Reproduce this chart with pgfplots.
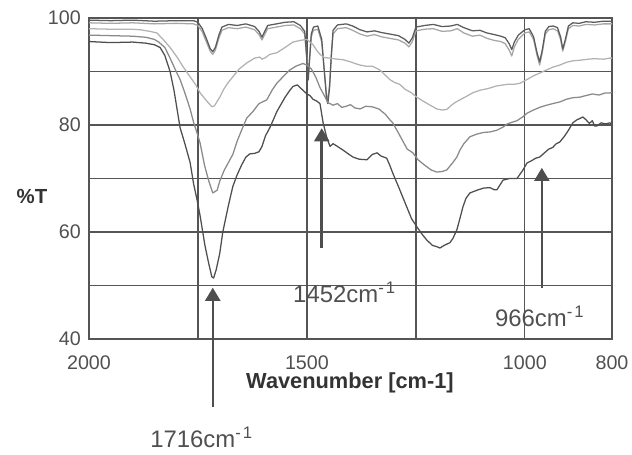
\documentclass[border=0pt]{standalone}
\usepackage{fontspec}
\setmainfont{Liberation Sans}
\usepackage{pgfplots}
\pgfplotsset{compat=1.18}
\usetikzlibrary{arrows.meta}
\definecolor{gridc}{HTML}{555555}
\definecolor{txt}{HTML}{505050}
\definecolor{cA}{HTML}{5C5C5C}
\definecolor{cB}{HTML}{A6A6A6}
\definecolor{cC}{HTML}{B2B2B2}
\definecolor{cD}{HTML}{8A8A8A}
\definecolor{cE}{HTML}{4E4E4E}
\newcommand{\cmi}{cm\textsuperscript{-\hspace{0.12em}1}}

\begin{document}
\begin{tikzpicture}
% 1 px of the reference = 0.025cm
\useasboundingbox (-2.225cm,-2.875cm) rectangle (13.575cm,8.475cm);
\begin{axis}[
    at={(0,0)}, anchor=south west,
    scale only axis,
    width=13.075cm, height=8.025cm,
    x dir=reverse,
    xmin=800, xmax=2000, ymin=40, ymax=100,
    xtick={2000,1750,1500,1250,1000,800},
    xticklabels={2000,,1500,,1000,800},
    ytick={40,50,60,70,80,90,100},
    yticklabels={40,,60,,80,,100},
    grid=major,
    grid style={draw=gridc, line width=0.9pt},
    axis line style={draw=gridc, line width=1pt},
    major tick length=0pt,
    xticklabel style={font=\fontsize{14}{14}\selectfont, text=txt, anchor=base, inner sep=0pt, yshift=-0.75cm},
    yticklabel style={font=\fontsize{14}{14}\selectfont, text=txt, anchor=east, inner sep=0pt, xshift=-0.2cm},
    xlabel={\textbf{Wavenumber [cm-1]}},
    ylabel={\textbf{\%T}},
    every axis x label/.style={at={(axis description cs:0.499,-0.137)}, anchor=center, font=\fontsize{15.5}{16}\selectfont, text=black!80},
    every axis y label/.style={at={(axis description cs:-0.109,0.445)}, anchor=center, font=\fontsize{14.5}{15}\selectfont, text=black!80},
    clip mode=individual,
    every axis plot/.append style={line width=0.9pt, line join=round},
]
% light gray top trace
\addplot[cB] coordinates {
(2000,99.1) (1950,99.0) (1900,99.1) (1850,98.9) (1800,99.0) (1760,98.9) (1750,98.6)
(1740,97.4) (1730,95.4) (1722,93.8) (1716,93.2) (1710,94.0) (1702,96.2) (1695,97.7)
(1680,98.2) (1660,98.0) (1640,98.3) (1620,97.8) (1610,96.9) (1603,95.9) (1598,96.7)
(1590,98.0) (1570,98.3) (1550,98.6) (1530,98.7) (1515,98.0) (1505,97.0) (1500,92.5)
(1497,89.5) (1494,92.5) (1490,96.5) (1485,97.7) (1475,97.9) (1466,95.5) (1460,90.0)
(1455,85.5) (1452,84.8) (1448,87.5) (1444,93.0) (1440,97.0) (1430,98.0) (1410,98.2)
(1395,97.7) (1378,97.0) (1362,96.6) (1345,96.9) (1330,96.5) (1310,96.2) (1290,95.9)
(1275,95.3) (1266,94.6) (1258,95.6) (1250,97.6) (1230,97.9) (1210,98.0) (1190,97.5)
(1170,97.6) (1155,98.0) (1140,97.2) (1120,96.6) (1103,96.8) (1087,96.2) (1070,95.8)
(1055,95.6) (1045,95.2) (1036,94.0) (1030,92.9) (1024,94.6) (1015,96.0) (1000,97.2)
(990,97.4) (980,96.0) (972,93.0) (966,91.2) (960,93.5) (953,97.0) (945,97.8)
(935,98.0) (925,97.6) (918,96.0) (913,93.8) (907,95.6) (900,98.0) (890,98.6)
(875,98.5) (860,98.8) (840,98.7) (820,98.9) (800,98.9)};
% dark gray top trace
\addplot[cA] coordinates {
(2000,99.6) (1950,99.5) (1900,99.6) (1850,99.4) (1800,99.5) (1760,99.5) (1750,99.2)
(1740,98.0) (1730,96.0) (1722,94.3) (1716,93.7) (1710,94.5) (1702,96.8) (1695,98.3)
(1680,98.8) (1660,98.6) (1640,98.9) (1620,98.4) (1610,97.5) (1603,96.4) (1598,97.3)
(1590,98.6) (1570,98.9) (1550,99.2) (1530,99.3) (1515,98.6) (1505,97.5) (1500,92.0)
(1497,88.4) (1494,92.0) (1490,97.0) (1485,98.3) (1475,98.5) (1466,96.0) (1460,90.0)
(1455,85.0) (1452,84.0) (1448,87.0) (1444,93.0) (1440,97.7) (1430,98.7) (1410,98.9)
(1395,98.5) (1378,97.8) (1362,97.4) (1345,97.6) (1330,97.3) (1310,97.0) (1290,96.7)
(1275,96.0) (1266,95.3) (1258,96.3) (1250,98.3) (1230,98.6) (1210,98.8) (1190,98.4)
(1170,98.5) (1155,98.8) (1140,98.2) (1120,97.6) (1103,97.7) (1087,97.2) (1070,96.9)
(1055,96.6) (1045,96.3) (1036,95.2) (1030,94.1) (1024,95.5) (1015,96.8) (1000,97.8)
(990,98.0) (980,96.5) (972,93.5) (966,91.8) (960,94.0) (953,97.5) (945,98.4)
(935,98.5) (925,98.2) (918,96.5) (913,94.2) (907,96.0) (900,98.5) (890,99.1)
(875,99.0) (860,99.3) (840,99.2) (820,99.4) (800,99.4)};
% light gray, dip to 84
\addplot[cC] coordinates {
(2000,98.0) (1950,97.9) (1900,97.9) (1883,97.8) (1860,97.5) (1844,97.2) (1830,96.0)
(1814,94.5) (1798,92.7) (1785,91.0) (1768,89.0) (1755,87.5) (1745,86.0) (1730,84.5)
(1718,83.4) (1712,83.6) (1700,85.2) (1690,86.8) (1680,88.0) (1670,89.0) (1655,90.5)
(1638,91.6) (1620,92.5) (1608,92.7) (1603,92.3) (1595,92.6) (1585,93.2) (1569,93.5)
(1550,94.5) (1532,95.5) (1516,95.8) (1500,96.0) (1493,95.5) (1486,95.0) (1478,94.0)
(1470,93.2) (1460,92.6) (1447,92.5) (1430,92.3) (1417,92.2) (1400,91.8) (1390,91.5)
(1378,91.2) (1365,91.0) (1350,91.0) (1333,90.3) (1320,89.3) (1310,88.5) (1300,88.0)
(1287,87.6) (1275,86.7) (1260,86.0) (1248,85.2) (1230,84.3) (1215,83.6) (1202,83.0)
(1190,82.8) (1179,82.9) (1170,83.6) (1160,84.2) (1149,84.7) (1135,85.3) (1120,86.0)
(1103,86.5) (1085,86.8) (1065,87.3) (1040,87.6) (1025,87.6) (1011,87.8) (995,88.5)
(980,89.2) (966,89.7) (950,90.3) (936,90.8) (920,91.2) (905,91.7) (890,92.0)
(874,92.1) (855,92.3) (840,92.4) (820,92.3) (805,92.5) (800,92.5)};
% medium gray, dip to 67
\addplot[cD] coordinates {
(2000,96.8) (1950,96.7) (1900,96.6) (1870,96.4) (1850,96.0) (1840,95.5) (1826,94.5)
(1814,92.5) (1800,90.0) (1791,88.5) (1780,86.0) (1768,83.0) (1760,80.5) (1752,78.5)
(1745,76.6) (1735,72.5) (1725,69.5) (1716,67.3) (1712,67.5) (1706,67.8) (1700,69.5)
(1690,71.5) (1680,73.0) (1670,74.5) (1660,77.0) (1647,79.6) (1638,81.3) (1624,82.5)
(1610,84.0) (1592,84.7) (1580,86.5) (1569,87.8) (1555,89.0) (1539,90.3) (1525,91.0)
(1509,91.5) (1500,91.2) (1490,90.5) (1480,89.0) (1470,87.0) (1460,85.5) (1452,84.2)
(1440,83.7) (1430,84.0) (1420,83.3) (1410,83.5) (1400,83.8) (1390,83.2) (1378,83.0)
(1365,83.5) (1350,83.4) (1335,83.0) (1320,82.0) (1310,81.0) (1303,80.4) (1290,78.5)
(1280,77.0) (1270,75.5) (1257,74.8) (1245,73.5) (1230,72.5) (1215,71.6) (1202,71.2)
(1190,71.3) (1179,71.6) (1165,73.0) (1156,74.0) (1149,75.3) (1140,76.5) (1126,77.8)
(1110,78.3) (1095,78.6) (1080,78.7) (1065,79.0) (1050,79.6) (1040,80.2) (1030,80.5)
(1018,80.8) (1005,81.5) (995,82.2) (980,82.8) (966,83.3) (950,83.7) (936,84.0)
(920,84.3) (905,84.8) (890,85.1) (874,85.2) (860,85.5) (845,85.8) (830,85.6)
(815,86.0) (805,86.0) (800,86.1)};
% dark gray, dip to 51
\addplot[cE] coordinates {
(2000,95.6) (1950,95.4) (1900,95.5) (1870,95.3) (1850,95.0) (1837,94.5) (1826,93.0)
(1814,90.0) (1805,86.5) (1798,83.0) (1791,79.5) (1780,76.5) (1768,73.0) (1760,69.0)
(1752,66.0) (1745,63.0) (1734,57.5) (1725,54.0) (1718,51.6) (1714,51.4) (1708,53.0)
(1700,56.0) (1693,60.0) (1680,65.0) (1670,68.5) (1661,70.5) (1650,72.5) (1640,74.0)
(1631,74.6) (1620,74.7) (1610,75.0) (1603,76.0) (1595,78.0) (1585,79.5) (1578,80.8)
(1569,82.5) (1562,83.5) (1550,85.2) (1539,86.5) (1532,87.2) (1522,87.5) (1516,87.0)
(1509,86.5) (1500,85.8) (1493,85.5) (1486,84.8) (1478,84.5) (1470,84.0) (1463,80.5)
(1455,77.8) (1447,76.0) (1440,76.5) (1430,76.0) (1417,75.3) (1405,74.6) (1394,74.0)
(1380,73.6) (1362,73.5) (1350,74.5) (1339,74.8) (1330,74.2) (1317,73.8) (1310,72.5)
(1303,71.0) (1290,68.5) (1280,66.5) (1271,64.7) (1260,62.5) (1248,61.0) (1235,59.5)
(1225,58.5) (1212,57.5) (1200,57.2) (1195,57.0) (1185,57.5) (1172,58.0) (1165,58.8)
(1156,60.4) (1149,62.5) (1142,64.7) (1135,66.3) (1126,67.3) (1110,67.8) (1095,68.2)
(1080,68.3) (1070,67.9) (1064,67.9) (1057,68.8) (1050,69.7) (1035,70.0) (1018,70.0)
(1005,71.5) (995,72.9) (985,73.3) (975,73.8) (966,74.0) (955,74.8) (945,75.5)
(936,75.8) (928,76.5) (920,76.8) (910,77.8) (900,79.0) (890,80.4) (880,81.0)
(874,81.2) (867,81.5) (860,81.0) (852,80.3) (845,80.8) (840,79.8) (835,79.8)
(825,80.4) (815,80.2) (805,80.4) (800,80.2)};

% peak annotations
\begin{scope}[draw=cE, line width=1.8pt, -{Triangle[width=0.375cm,length=0.33cm]}]
\draw (axis cs:1716,27.3) -- (axis cs:1716,49.6);
\draw (axis cs:1466,57.0) -- (axis cs:1466,79.4);
\draw (axis cs:961,49.5) -- (axis cs:961,72.0);
\end{scope}
\begin{scope}[every node/.style={anchor=base west, inner sep=0pt, text=txt, font=\fontsize{17}{17}\selectfont}]
\node at (axis cs:1860,19.8) {1716\cmi};
\node at (axis cs:1532,46.9) {1452\cmi};
\node at (axis cs:1069,42.4) {966\cmi};
\end{scope}
\end{axis}
\end{tikzpicture}
\end{document}
